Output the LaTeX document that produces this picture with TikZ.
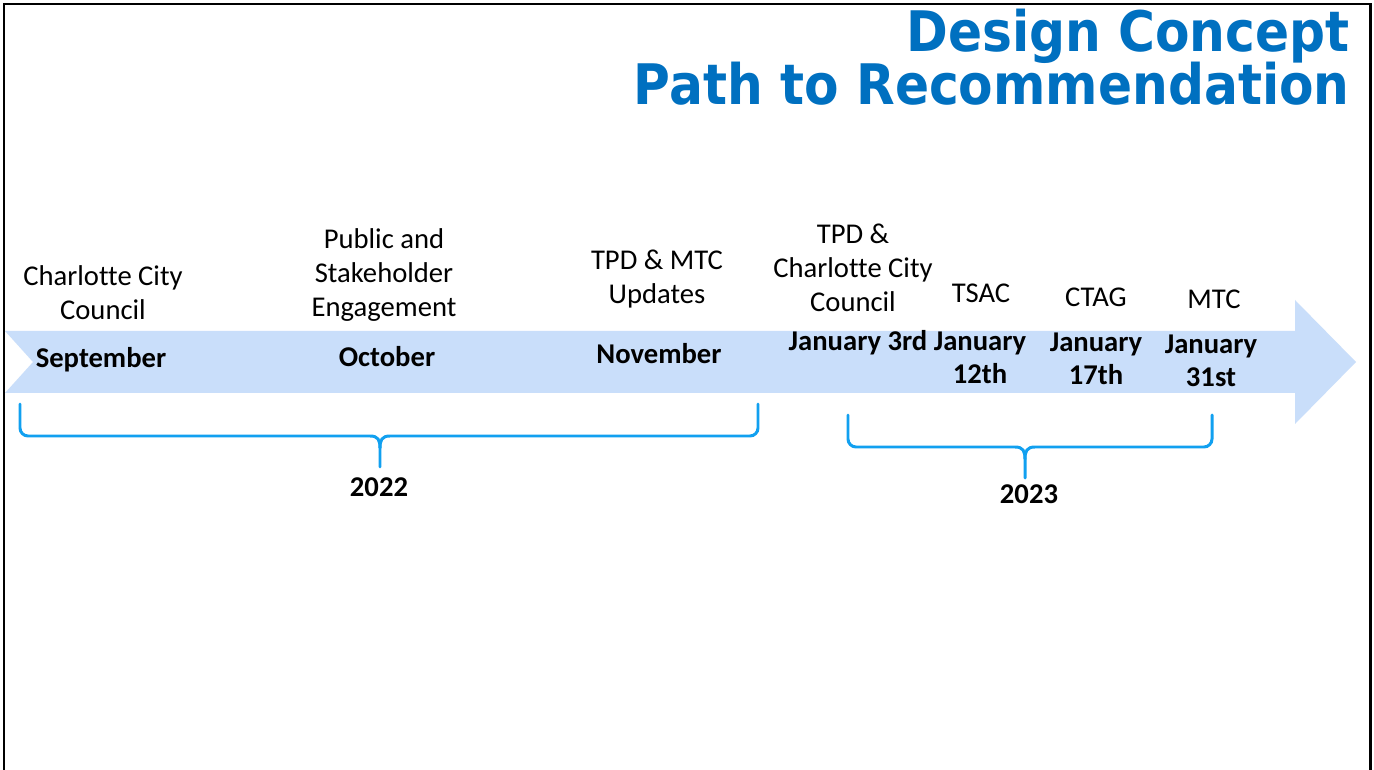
\documentclass[tikz,border=0pt]{standalone}
\usepackage{fontspec}
\setmainfont{Carlito}[Ligatures={NoCommon}]
\newfontfamily\titlefont{DejaVu Sans Condensed}
\definecolor{titleblue}{RGB}{0,112,192}
\definecolor{arrowblue}{RGB}{201,222,250}
\definecolor{braceblue}{RGB}{17,160,240}

\begin{document}
\begin{tikzpicture}[x=0.02cm,y=-0.02cm]
        \tikzstyle{event}=[align=center,inner sep=0pt,font=\fontsize{16.3}{19.3}\selectfont]
        \tikzstyle{date}=[align=center,inner sep=0pt,font=\fontsize{16.3}{18.8}\selectfont\bfseries]
        \tikzstyle{brace}=[draw=braceblue,line width=1.7pt,line cap=round]
        \tikzstyle{title}=[anchor=base east,inner sep=0pt,text=titleblue,font=\fontsize{31.8}{31.8}\selectfont\titlefont\bfseries]
        \useasboundingbox (0,0) rectangle (1374,770);
        \fill[white] (0,0) rectangle (1374,770);
        \draw[line width=1.7pt] (4,775) -- (4,4) -- (1370,4) -- (1370,775);

        % title
        \node[title] (T1) at (1350,52) {Design Concept};
        \node[title] (T2) at (1350,105) {Path to Recommendation};

        % timeline arrow
        \fill[arrowblue] (5,331) -- (1295,331) -- (1295,300) -- (1356,362)
            -- (1295,424) -- (1295,393) -- (5,393) -- (33,362) -- cycle;

        % what happens
        \node[event] (E1) at (103,293) {Charlotte City\\Council};
        \node[event] (E2) at (384,275) {Public and\\Stakeholder\\Engagement};
        \node[event] (E3) at (657,279) {TPD \& MTC\\Updates};
        \node[event] (E4) at (853,268) {TPD \&\\Charlotte City\\Council};
        \node[event] (E5) at (981,293) {TSAC};
        \node[event] (E6) at (1096,297) {CTAG};
        \node[event] (E7) at (1214,299) {MTC};

        % when
        \node[date] (D1) at (101,360) {September};
        \node[date] (D2) at (387,357) {October};
        \node[date] (D3) at (659,354) {November};
        \node[date] (D4) at (858,343) {January 3rd};
        \node[date] (D5) at (980,358) {January\\12th};
        \node[date] (D6) at (1096,359) {January\\17th};
        \node[date] (D7) at (1211,361) {January\\31st};

        % years
        \draw[brace] (20,404) -- (20,428) to[out=-90,in=180] (28,436) -- (370,436)
            .. controls (378,436) and (380,440) .. (380,448) -- (380,467);
        \draw[brace] (758,404) -- (758,428) to[out=-90,in=0] (750,436) -- (390,436)
            .. controls (382,436) and (380,440) .. (380,448);
        \node[date] (Y1) at (379,487) {2022};

        \draw[brace] (848,415) -- (848,439) to[out=-90,in=180] (856,447) -- (1015,447)
            .. controls (1023,447) and (1025,451) .. (1025,459) -- (1025,478);
        \draw[brace] (1212,415) -- (1212,439) to[out=-90,in=0] (1204,447) -- (1035,447)
            .. controls (1027,447) and (1025,451) .. (1025,459);
        \node[date] (Y2) at (1029,494) {2023};
    \end{tikzpicture}
\end{document}
